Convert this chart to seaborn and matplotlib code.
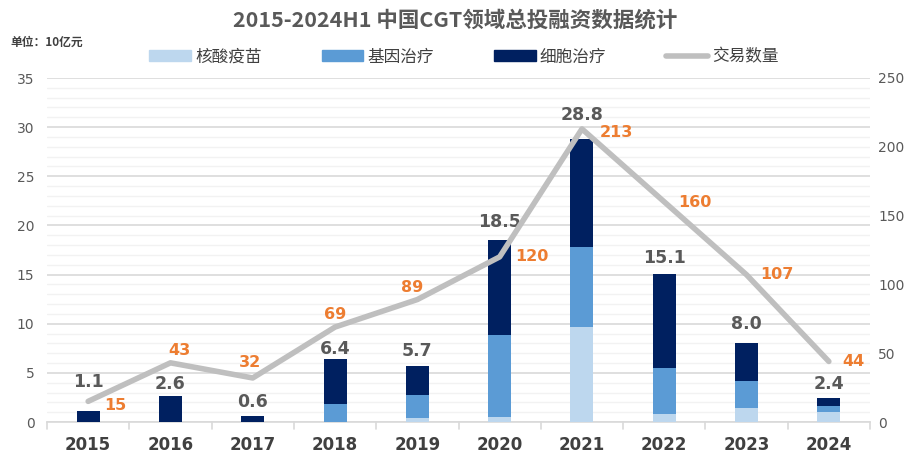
import matplotlib
matplotlib.use("Agg")
import matplotlib.pyplot as plt
import matplotlib.patches as mpatches
import matplotlib.lines as mlines
from matplotlib.ticker import MultipleLocator
import numpy as np
import pandas as pd
import seaborn as sns

sns.set_theme(style="white")
plt.rcParams['font.family'] = ['Noto Sans CJK SC', 'DejaVu Sans']

# data (unit: 10亿元)
years = ['2015', '2016', '2017', '2018', '2019', '2020', '2021', '2022', '2023', '2024']
vaccine = [0.0, 0.0, 0.0, 0.0, 0.4, 0.5, 9.7, 0.8, 1.4, 1.0]     # 核酸疫苗
gene = [0.0, 0.0, 0.0, 1.8, 2.3, 8.4, 8.1, 4.7, 2.8, 0.6]        # 基因治疗
cell = [1.1, 2.6, 0.6, 4.6, 3.0, 9.6, 11.0, 9.6, 3.8, 0.8]       # 细胞治疗
totals = [1.1, 2.6, 0.6, 6.4, 5.7, 18.5, 28.8, 15.1, 8.0, 2.4]
deals = [15, 43, 32, 69, 89, 120, 213, 160, 107, 44]              # 交易数量

# label offsets in pixels (dx, dy)
total_dy = [29, 12, 14, 10, 15, 18, 24, 16, 19, 14]
deal_off = [(27, -4), (9, 12), (-3, 15), (0, 13), (-5, 12),
            (32, 0), (34, -4), (31, -1), (30, 0), (25, 0)]

c_vac, c_gene, c_cell, c_line = '#BDD7EE', '#5B9BD5', '#002060', '#BFBFBF'
grey_txt = '#595959'
orange = '#ED7D31'

df = pd.DataFrame({'year': years, 'vaccine': vaccine, 'gene': gene, 'cell': cell, 'deals': deals})
df['vg'] = df['vaccine'] + df['gene']
df['all'] = df['vg'] + df['cell']

fig = plt.figure(figsize=(9.1, 4.54), dpi=100)
ax = fig.add_axes([47 / 910, 1 - 422 / 454, (870 - 47) / 910, (422 - 78) / 454])

# stacked bars drawn back to front
for col, c in [('all', c_cell), ('vg', c_gene), ('vaccine', c_vac)]:
    sns.barplot(data=df, x='year', y=col, color=c, width=0.28, saturation=1,
                ax=ax, zorder=3, linewidth=0)

ax.set_xlim(-0.5, 9.5)
ax.set_ylim(0, 35)
ax.yaxis.set_major_locator(MultipleLocator(5))
ax.yaxis.set_minor_locator(MultipleLocator(1))
ax.grid(axis='y', which='major', color='#D9D9D9', linewidth=1.2, zorder=0)
ax.grid(axis='y', which='minor', color='#F2F2F2', linewidth=1.0, zorder=0)
ax.set_axisbelow(True)
for s in ['top', 'left', 'right']:
    ax.spines[s].set_visible(False)
ax.spines['bottom'].set_color('#D9D9D9')
ax.spines['bottom'].set_linewidth(1.2)
ax.set_xlabel('')
ax.set_ylabel('')
ax.tick_params(axis='y', which='both', length=0, labelsize=10, labelcolor=grey_txt, pad=9)
ax.tick_params(axis='x', length=0, labelsize=12, labelcolor='#404040', pad=10)
for t in ax.get_xticklabels():
    t.set_fontweight('bold')
    t.set_family('DejaVu Sans')
for t in ax.get_yticklabels():
    t.set_family('DejaVu Sans')
# category separators below the axis
for b in np.arange(-0.5, 10, 1.0):
    ax.plot([b, b], [0, -0.7], color='#D9D9D9', linewidth=1.2, clip_on=False, zorder=4)

# total labels
for i, v in enumerate(totals):
    ax.annotate(f'{v:.1f}', (i, v), xytext=(0, total_dy[i]), textcoords='offset pixels',
                ha='center', va='center', fontsize=12.5, fontweight='bold',
                color=grey_txt, family='DejaVu Sans', zorder=6)

# deals line on secondary axis
ax2 = ax.twinx()
sns.lineplot(x=np.arange(len(years)), y=df['deals'], ax=ax2, color=c_line,
             linewidth=4, zorder=5, solid_capstyle='round')
ax2.set_ylim(0, 250)
ax2.yaxis.set_major_locator(MultipleLocator(50))
ax2.set_ylabel('')
for s in ['top', 'left', 'right', 'bottom']:
    ax2.spines[s].set_visible(False)
ax2.tick_params(axis='y', length=0, labelsize=10, labelcolor=grey_txt, pad=6)
for t in ax2.get_yticklabels():
    t.set_family('DejaVu Sans')
for i, v in enumerate(deals):
    dx, dy = deal_off[i]
    ax2.annotate(str(v), (i, v), xytext=(dx, dy), textcoords='offset pixels',
                 ha='center', va='center', fontsize=11.5, fontweight='bold',
                 color=orange, family='DejaVu Sans', zorder=6)

# title, unit, legend
fig.text(0.5, 1 - 20 / 454, '2015-2024H1 中国CGT领域总投融资数据统计', ha='center', va='center',
         fontsize=15.5, fontweight='bold', color=grey_txt)
fig.text(10 / 910, 1 - 42 / 454, '单位：10亿元', ha='left', va='center',
         fontsize=8.5, fontweight='bold', color='#404040')

handles = [mpatches.Patch(color=c_vac, label='核酸疫苗'),
           mpatches.Patch(color=c_gene, label='基因治疗'),
           mpatches.Patch(color=c_cell, label='细胞治疗'),
           mlines.Line2D([], [], color=c_line, linewidth=4, label='交易数量')]
leg = fig.legend(handles=handles, loc='center', bbox_to_anchor=(0.51, 1 - 57 / 454), ncol=4,
                 frameon=False, fontsize=12, handlelength=2.5, handleheight=0.6,
                 columnspacing=3.6, handletextpad=0.25)
for t in leg.get_texts():
    t.set_color('#404040')

fig.savefig('out.png', dpi=100)
